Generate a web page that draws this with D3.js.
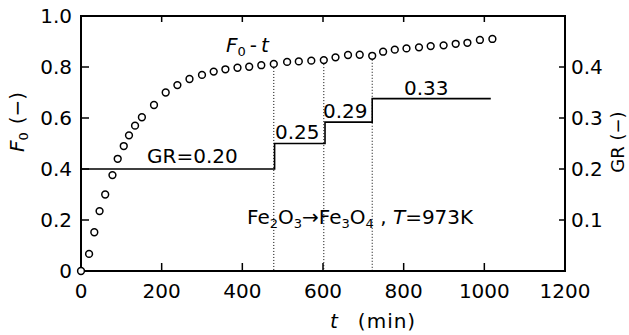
<!DOCTYPE html>
<html>
<head>
<meta charset="utf-8">
<script src="https://cdn.jsdelivr.net/npm/d3@7"></script>
<style>
  html, body { margin: 0; padding: 0; background: #fff; }
  svg { display: block; }
  text { font-family: "DejaVu Sans", sans-serif; fill: #000; }
</style>
</head>
<body>
<svg id="chart" width="629" height="335"></svg>
<script>
/* ── Data ───────────────────────────────────────────────────────────────────── */
const times = [0, 20, 33, 46, 60, 78, 91, 106, 119, 134, 151, 181, 210, 239, 269, 300,
  329, 358, 388, 417, 447, 478, 511, 540, 571, 602, 631, 662, 691, 722, 749, 778,
  807, 838, 867, 899, 929, 958, 989, 1020];
const f0 = [0, 0.067, 0.152, 0.235, 0.30, 0.376, 0.44, 0.49, 0.532, 0.57, 0.603, 0.651,
  0.70, 0.729, 0.753, 0.769, 0.782, 0.791, 0.797, 0.801, 0.807, 0.812, 0.82, 0.822,
  0.825, 0.827, 0.838, 0.847, 0.848, 0.844, 0.86, 0.868, 0.873, 0.877, 0.882, 0.885,
  0.891, 0.895, 0.906, 0.91];

// GR steps: value holds from stepStart[i] to stepStart[i+1]
const stepStart = [0, 480, 605, 722, 1016];
const grValues = [0.20, 0.25, 0.292, 0.338];
const grLabels = ["GR=0.20", "0.25", "0.29", "0.33"];

// times where the gas ratio was switched (dotted markers)
const switchTimes = [478, 602, 722];

const xTicks = [0, 200, 400, 600, 800, 1000, 1200];
const yTicks = [0, 0.2, 0.4, 0.6, 0.8, 1.0];
const grTicks = [0.1, 0.2, 0.3, 0.4];

/* ── Layout ─────────────────────────────────────────────────────────────────── */
const svg = d3.select("#chart");
const x = d3.scaleLinear().domain([0, 1200]).range([81, 565]);
const y = d3.scaleLinear().domain([0, 1]).range([271, 16]);
const yGR = d3.scaleLinear().domain([0, 0.5]).range([271, 16]);

/* ── Frame + ticks ──────────────────────────────────────────────────────────── */
svg.append("rect")
  .attr("x", x(0)).attr("y", y(1))
  .attr("width", x(1200) - x(0)).attr("height", y(0) - y(1))
  .attr("fill", "none").attr("stroke", "#000").attr("stroke-width", 2);

const ticks = svg.append("g").attr("stroke", "#000").attr("stroke-width", 1.5);
xTicks.filter(d => d > 0 && d < 1200).forEach(d => {
  ticks.append("line").attr("x1", x(d)).attr("x2", x(d)).attr("y1", y(0)).attr("y2", y(0) - 8);
  ticks.append("line").attr("x1", x(d)).attr("x2", x(d)).attr("y1", y(1)).attr("y2", y(1) + 6);
});
yTicks.filter(d => d > 0 && d < 1).forEach(d => {
  ticks.append("line").attr("x1", x(0)).attr("x2", x(0) + 8).attr("y1", y(d)).attr("y2", y(d));
});
grTicks.forEach(d => {
  ticks.append("line").attr("x1", x(1200)).attr("x2", x(1200) - 6).attr("y1", yGR(d)).attr("y2", yGR(d));
});

/* ── Tick labels ────────────────────────────────────────────────────────────── */
const fmtY = d => d === 0 ? "0" : d3.format(".1f")(d);
svg.append("g").selectAll("text").data(xTicks).join("text")
  .attr("x", d => x(d)).attr("y", 298)
  .attr("text-anchor", "middle").attr("font-size", 20)
  .text(d => d);
svg.append("g").selectAll("text").data(yTicks).join("text")
  .attr("x", 72).attr("y", d => y(d) + 7)
  .attr("text-anchor", "end").attr("font-size", 20)
  .text(fmtY);
svg.append("g").selectAll("text").data(grTicks).join("text")
  .attr("x", 571).attr("y", d => yGR(d) + 7)
  .attr("font-size", 20)
  .text(d => d3.format(".1f")(d));

/* ── Axis titles ────────────────────────────────────────────────────────────── */
const xt = svg.append("text").attr("x", 330).attr("y", 328).attr("font-size", 20);
xt.append("tspan").attr("font-style", "italic").text("t");
xt.append("tspan").attr("dx", 20).attr("letter-spacing", 1).text("(min)");

const yt = svg.append("text")
  .attr("transform", "translate(24,122) rotate(-90)")
  .attr("text-anchor", "middle").attr("font-size", 20);
yt.append("tspan").attr("font-style", "italic").text("F");
yt.append("tspan").attr("font-size", 13).attr("dy", 4).text("0");
yt.append("tspan").attr("dy", -4).attr("dx", 8).text("(−)");

svg.append("text")
  .attr("transform", "translate(624,142) rotate(-90)")
  .attr("text-anchor", "middle").attr("font-size", 18)
  .text("GR  (−)");

/* ── Dotted switch markers ──────────────────────────────────────────────────── */
switchTimes.forEach(t => {
  const i = times.indexOf(t);
  svg.append("line")
    .attr("x1", x(t)).attr("x2", x(t))
    .attr("y1", y(f0[i]) + 4).attr("y2", y(0))
    .attr("stroke", "#000").attr("stroke-width", 1)
    .attr("stroke-dasharray", "1,2");
});

/* ── GR step line ───────────────────────────────────────────────────────────── */
const stepPts = [];
grValues.forEach((g, i) => {
  stepPts.push([stepStart[i], g], [stepStart[i + 1], g]);
});
svg.append("path")
  .attr("d", d3.line().x(d => x(d[0])).y(d => yGR(d[1]))(stepPts))
  .attr("fill", "none").attr("stroke", "#000").attr("stroke-width", 1.6);

// step labels
const labelPos = [[147, 163], [275, 139], [323, 118], [404, 95]];
svg.append("g").selectAll("text").data(grLabels).join("text")
  .attr("x", (d, i) => labelPos[i][0]).attr("y", (d, i) => labelPos[i][1])
  .attr("font-size", 20)
  .text(d => d);

/* ── F0 points ──────────────────────────────────────────────────────────────── */
svg.append("g").selectAll("circle").data(times).join("circle")
  .attr("cx", d => x(d)).attr("cy", (d, i) => y(f0[i]))
  .attr("r", 3.4)
  .attr("fill", "#fff").attr("stroke", "#000").attr("stroke-width", 1.5);

/* ── Annotations ────────────────────────────────────────────────────────────── */
const ft = svg.append("text").attr("x", 226).attr("y", 52).attr("font-size", 20);
ft.append("tspan").attr("font-style", "italic").text("F");
ft.append("tspan").attr("font-size", 13).attr("dy", 4).text("0");
ft.append("tspan").attr("dy", -4).attr("dx", 4).text("-");
ft.append("tspan").attr("dx", 4).attr("font-style", "italic").text("t");

const rx = svg.append("text").attr("x", 247).attr("y", 224).attr("font-size", 20);
rx.append("tspan").text("Fe");
rx.append("tspan").attr("font-size", 13).attr("dy", 4).text("2");
rx.append("tspan").attr("dy", -4).text("O");
rx.append("tspan").attr("font-size", 13).attr("dy", 4).text("3");
rx.append("tspan").attr("dy", -4).text("→Fe");
rx.append("tspan").attr("font-size", 13).attr("dy", 4).text("3");
rx.append("tspan").attr("dy", -4).text("O");
rx.append("tspan").attr("font-size", 13).attr("dy", 4).text("4");
rx.append("tspan").attr("dy", -4).text(" , ");
rx.append("tspan").attr("font-style", "italic").text("T");
rx.append("tspan").text("=973K");
</script>
</body>
</html>
